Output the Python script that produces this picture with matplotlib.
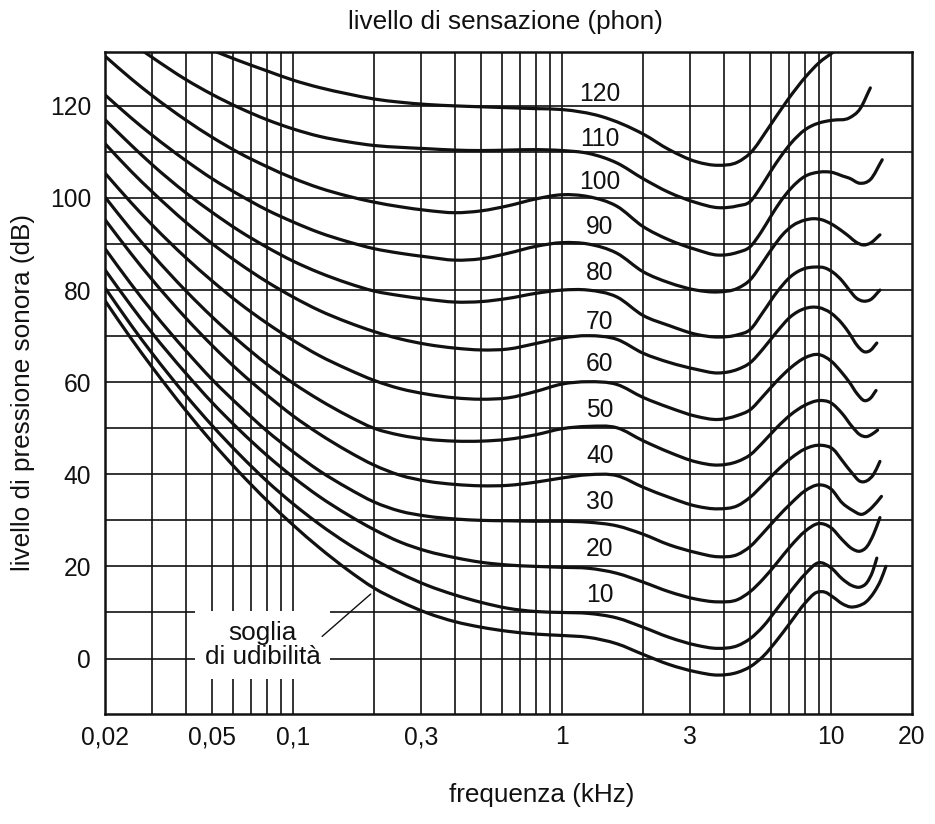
import matplotlib
matplotlib.use("Agg")
import numpy as np
import matplotlib.pyplot as plt
from matplotlib.path import Path
from matplotlib.patches import PathPatch
from matplotlib.ticker import FixedLocator, FixedFormatter, NullFormatter

plt.rcParams['font.family'] = ['Liberation Sans', 'DejaVu Sans']

# ---------------- data (frequency in kHz, level in dB) ----------------
xtick_vals = [0.02, 0.05, 0.1, 0.3, 1, 3, 10, 20]
xtick_labels = ["0,02", "0,05", "0,1", "0,3", "1", "3", "10", "20"]
ytick_vals = [0, 20, 40, 60, 80, 100, 120]
grid_freqs = [0.03, 0.04, 0.05, 0.06, 0.07, 0.08, 0.09, 0.1, 0.2, 0.3, 0.4, 0.5,
              0.6, 0.7, 0.8, 0.9, 1, 2, 3, 4, 5, 6, 7, 8, 9, 10]
grid_levels = [0, 10, 20, 30, 40, 50, 60, 70, 80, 90, 100, 110, 120]

phon_levels = [10, 20, 30, 40, 50, 60, 70, 80, 90, 100, 110, 120]
phon_label_freq = 1.38
phon_label_db = [13.8, 23.8, 34.0, 43.9, 53.9, 63.9, 73.1, 83.8, 93.7, 103.4, 112.8, 122.5]

f_low = [0.02, 0.025, 0.03, 0.04, 0.05, 0.063, 0.08, 0.1, 0.125, 0.16, 0.2, 0.25,
         0.315, 0.4, 0.5, 0.63, 0.8, 1.0, 1.25, 1.6, 2.0, 2.5, 3.15, 3.8, 4.5, 5.0]

f_thr = f_low + [5.6, 6.3, 7.1, 8.0, 8.8, 9.5, 10.2, 11.0, 11.8, 12.6, 13.5, 14.5, 15.3, 16.0]
db_thr = [77.7, 69.5, 63.2, 53.8, 47.0, 40.5, 34.3, 29.0, 24.1, 19.2, 15.3, 12.4,
          9.9, 8.0, 6.8, 5.9, 5.3, 5.0, 4.6, 3.2, 0.9, -1.3, -2.9, -3.6, -3.0, -1.8,
          0.5, 4.0, 8.0, 12.0, 14.3, 14.4, 13.3, 11.9, 11.2, 11.4, 12.3, 14.5, 17.0, 20.0]

f_10 = f_low + [5.6, 6.3, 7.1, 8.0, 9.0, 10.0, 11.0, 12.0, 12.8, 13.6, 14.3, 14.8]
db_10 = [80.5, 72.4, 66.2, 57.1, 50.6, 44.4, 38.5, 33.6, 29.2, 24.9, 21.5, 18.5,
         15.9, 13.8, 12.2, 10.9, 10.2, 10.0, 9.8, 8.8, 6.8, 4.6, 2.9, 2.2, 2.8, 4.3,
         7.0, 10.8, 14.7, 18.3, 20.8, 19.7, 17.3, 15.8, 15.5, 16.5, 19.0, 21.8]

f_20 = f_low + [5.6, 6.3, 7.1, 8.0, 9.0, 10.0, 11.0, 12.0, 12.8, 13.6, 14.4, 15.2]
db_20 = [84.4, 76.6, 70.6, 61.9, 55.6, 49.7, 44.1, 39.4, 35.2, 31.2, 28.0, 25.3,
         23.3, 21.9, 20.9, 20.3, 20.0, 19.8, 19.6, 18.5, 16.6, 14.5, 12.9, 12.3, 12.8, 14.5,
         17.3, 20.8, 24.5, 27.6, 29.3, 28.4, 25.8, 23.8, 23.3, 24.3, 27.0, 30.6]

f_30 = f_low + [5.6, 6.3, 7.1, 8.0, 9.0, 10.0, 11.0, 12.0, 13.0, 14.2, 15.4]
db_30 = [89.0, 81.3, 75.4, 66.8, 60.6, 54.9, 49.4, 44.9, 40.8, 37.0, 34.0, 32.0,
         30.9, 30.3, 30.0, 29.9, 29.8, 29.8, 29.6, 28.8, 27.0, 24.7, 23.0, 22.1, 22.6, 24.3,
         27.3, 30.6, 33.7, 36.4, 37.7, 36.8, 33.8, 32.2, 31.3, 32.8, 35.2]

f_40 = f_low + [5.6, 6.3, 7.1, 8.0, 9.2, 10.2, 11.0, 12.0, 12.8, 13.6, 14.4, 15.2]
db_40 = [95.3, 87.9, 82.2, 73.9, 68.0, 62.4, 57.2, 52.7, 48.8, 45.0, 42.0, 39.8,
         38.5, 37.8, 37.5, 37.6, 38.3, 39.2, 39.9, 39.7, 37.2, 35.0, 33.1, 32.5, 33.2, 35.0,
         37.8, 40.8, 43.5, 45.5, 46.3, 45.4, 43.0, 40.2, 38.5, 38.6, 40.0, 42.8]

f_50 = f_low + [5.6, 6.3, 7.1, 8.0, 9.0, 10.0, 11.0, 12.0, 12.8, 13.6, 14.2, 14.9]
db_50 = [100.2, 93.1, 87.7, 79.8, 74.2, 68.9, 63.9, 59.8, 56.2, 52.7, 50.0, 48.5,
         47.6, 47.2, 47.2, 47.6, 48.6, 49.9, 50.4, 50.1, 47.3, 44.8, 42.7, 42.0, 42.8, 44.2,
         47.0, 50.2, 53.0, 55.0, 56.0, 55.5, 53.2, 50.3, 48.6, 48.2, 48.7, 49.6]

f_60 = f_low + [5.6, 6.3, 7.1, 8.0, 9.0, 10.0, 11.0, 11.7, 12.5, 13.3, 14.0, 14.7]
db_60 = [105.4, 99.0, 94.1, 87.0, 82.0, 77.2, 72.8, 69.1, 65.8, 62.8, 60.4, 58.6,
         57.4, 56.6, 56.3, 56.6, 58.0, 59.6, 60.1, 59.5, 56.7, 54.5, 52.6, 51.9, 52.8, 54.0,
         57.0, 60.3, 63.2, 65.3, 66.0, 64.6, 62.0, 60.0, 57.5, 56.0, 56.5, 58.2]

f_70 = f_low + [5.6, 6.3, 7.1, 8.0, 9.0, 10.0, 11.0, 11.7, 12.5, 13.3, 14.0, 14.8]
db_70 = [111.8, 105.8, 101.3, 94.7, 90.1, 85.8, 81.8, 78.5, 75.6, 73.0, 71.0, 69.4,
         68.2, 67.4, 67.0, 67.2, 68.4, 69.6, 70.1, 69.3, 66.3, 64.3, 62.8, 62.0, 62.8, 64.2,
         67.3, 71.0, 74.3, 76.0, 76.2, 75.0, 72.7, 70.6, 68.0, 66.6, 66.9, 68.5]

f_80 = f_low + [5.6, 6.3, 7.1, 8.0, 8.7, 9.5, 10.2, 11.0, 11.7, 12.4, 13.2, 14.0, 15.2]
db_80 = [117.0, 111.5, 107.2, 101.1, 96.9, 92.9, 89.3, 86.3, 83.8, 81.5, 79.8, 78.8,
         78.0, 77.4, 77.5, 78.2, 79.3, 80.0, 80.0, 78.5, 74.5, 72.3, 70.4, 69.8, 70.3, 71.4,
         75.3, 79.6, 83.0, 84.7, 85.0, 84.8, 83.8, 82.0, 80.0, 78.3, 77.6, 77.9, 80.0]

f_90 = f_low + [5.6, 6.1, 6.6, 7.2, 8.0, 8.6, 9.2, 10.0, 11.0, 11.7, 12.4, 13.2, 14.0, 15.2]
db_90 = [122.4, 117.4, 113.6, 108.1, 104.2, 100.7, 97.4, 94.8, 92.5, 90.5, 89.0, 88.0,
         87.2, 86.5, 86.8, 88.0, 89.5, 90.3, 90.0, 88.0, 84.0, 81.6, 80.0, 79.6, 80.4, 82.2,
         86.2, 89.4, 92.0, 94.0, 95.2, 95.5, 95.3, 94.4, 92.8, 91.6, 90.4, 89.8, 90.2, 92.0]

f_100 = f_low + [5.5, 6.0, 6.5, 7.1, 8.0, 9.0, 10.2, 11.0, 11.7, 12.8, 14.0, 15.5]
db_100 = [130.8, 125.9, 122.2, 116.9, 113.2, 109.8, 106.8, 104.3, 102.2, 100.4, 99.1, 98.1,
          97.3, 96.8, 97.2, 98.3, 99.8, 100.7, 100.3, 98.2, 93.8, 90.9, 88.8, 87.6, 88.2, 89.4,
          92.6, 96.2, 99.3, 102.1, 104.7, 105.6, 105.5, 104.8, 104.3, 103.2, 104.0, 108.3]

f_110 = [0.028, 0.03, 0.04, 0.05, 0.063, 0.08, 0.1, 0.125, 0.16, 0.2, 0.25, 0.315, 0.4,
         0.5, 0.63, 0.8, 1.0, 1.25, 1.6, 2.0, 2.5, 3.15, 3.8, 4.5, 5.0, 5.5, 6.0, 6.5, 7.1,
         8.0, 8.5, 9.3, 10.2, 11.7, 12.8, 14.0]
db_110 = [131.7, 130.5, 125.7, 122.5, 119.6, 117.0, 115.0, 113.4, 112.2, 111.4, 111.0,
          110.7, 110.4, 110.3, 110.4, 110.5, 110.3, 109.7, 107.6, 104.2, 101.2, 99.0, 97.9,
          98.3, 99.2, 102.5, 106.0, 109.0, 111.9, 114.8, 115.7, 116.5, 116.9, 117.4, 119.3,
          123.9]

f_120 = [0.052, 0.063, 0.08, 0.1, 0.125, 0.16, 0.2, 0.25, 0.315, 0.4, 0.5, 0.63, 0.8, 1.0,
         1.4, 2.0, 2.5, 3.15, 3.8, 4.5, 5.0, 5.9, 6.9, 8.1, 9.0, 10.2]
db_120 = [131.7, 129.8, 127.6, 125.6, 124.0, 122.6, 121.5, 120.8, 120.3, 120.0, 119.8,
          119.6, 119.4, 119.2, 117.7, 113.9, 110.5, 107.9, 107.1, 107.8, 109.7, 115.5, 121.3,
          126.5, 129.3, 131.7]

threshold_text = "soglia\ndi udibilità"
threshold_text_pos = (0.077, 2.9)
threshold_arrow_tip = (0.198, 14.4)
threshold_arrow_tail = (0.126, 4.4)

title_text = "livello di sensazione (phon)"
xlabel_text = "frequenza (kHz)"
ylabel_text = "livello di pressione sonora (dB)"


# ---------------- helpers ----------------
def smooth_path(freqs, levels):
    """Smooth cubic (Bezier) path through the read points, built in log-f space."""
    x = np.log10(np.asarray(freqs, float))
    y = np.asarray(levels, float)
    n = len(x)
    h = np.diff(x)
    s = np.diff(y) / h
    m = np.empty(n)
    m[0], m[-1] = s[0], s[-1]
    for i in range(1, n - 1):
        m[i] = (s[i - 1] * h[i] + s[i] * h[i - 1]) / (h[i - 1] + h[i])
    verts = [(x[0], y[0])]
    codes = [Path.MOVETO]
    for i in range(n - 1):
        d = h[i] / 3.0
        verts += [(x[i] + d, y[i] + m[i] * d),
                  (x[i + 1] - d, y[i + 1] - m[i + 1] * d),
                  (x[i + 1], y[i + 1])]
        codes += [Path.CURVE4] * 3
    verts = np.array(verts)
    verts[:, 0] = 10 ** verts[:, 0]
    return Path(verts, codes)


# ---------------- figure ----------------
NUM_FS = 17.7
TXT_FS = 18.8
INK = "#111111"

fig = plt.figure(figsize=(9.35, 8.24), dpi=100)
ax = fig.add_axes([0.1123, 0.1335, 0.8631, 0.8034])
ax.set_xscale("log")
ax.set_xlim(0.02, 20)
ax.set_ylim(-12.05, 131.7)

ax.xaxis.set_major_locator(FixedLocator(xtick_vals))
ax.xaxis.set_major_formatter(FixedFormatter(xtick_labels))
ax.xaxis.set_minor_locator(FixedLocator(grid_freqs))
ax.xaxis.set_minor_formatter(NullFormatter())
ax.xaxis.remove_overlapping_locs = False
ax.yaxis.set_major_locator(FixedLocator(ytick_vals))
ax.yaxis.set_minor_locator(FixedLocator(grid_levels))
ax.yaxis.remove_overlapping_locs = False

ax.tick_params(which="both", length=0)
ax.tick_params(axis="x", which="major", labelsize=NUM_FS, pad=8, colors=INK)
ax.tick_params(axis="y", which="major", labelsize=NUM_FS, pad=10, colors=INK)

ax.set_axisbelow(True)
ax.grid(False, which="major")
ax.grid(True, which="minor", color=INK, linewidth=1.2)

for sp in ax.spines.values():
    sp.set_linewidth(1.8)
    sp.set_color(INK)

curves = [(f_thr, db_thr), (f_10, db_10), (f_20, db_20), (f_30, db_30), (f_40, db_40),
          (f_50, db_50), (f_60, db_60), (f_70, db_70), (f_80, db_80), (f_90, db_90),
          (f_100, db_100), (f_110, db_110), (f_120, db_120)]
for fx, dy in curves:
    patch = PathPatch(smooth_path(fx, dy), fill=False, edgecolor=INK, linewidth=2.3,
                      capstyle="round", joinstyle="round", zorder=3)
    ax.add_patch(patch)

for lvl, ly in zip(phon_levels, phon_label_db):
    ax.text(phon_label_freq, ly, str(lvl), fontsize=NUM_FS, color=INK,
            ha="center", va="center", zorder=4)

ax.text(threshold_text_pos[0], threshold_text_pos[1], threshold_text, fontsize=TXT_FS,
        color=INK, ha="center", va="center", linespacing=1.0, zorder=4,
        bbox=dict(facecolor="white", edgecolor="none", pad=7))
ax.annotate("", xy=threshold_arrow_tip, xytext=threshold_arrow_tail,
            arrowprops=dict(arrowstyle="-", color=INK, lw=1.0), zorder=5)

ax.set_title(title_text, fontsize=TXT_FS, color=INK, x=0.4957, y=1.0453, pad=0,
             va="center")
ax.set_xlabel(xlabel_text, fontsize=TXT_FS, color=INK)
ax.xaxis.label.set_va("center")
ax.xaxis.set_label_coords(0.5415, -0.1224)
ax.set_ylabel(ylabel_text, fontsize=TXT_FS, color=INK)
ax.yaxis.label.set_va("center")
ax.yaxis.set_label_coords(-0.1016, 0.485)

fig.savefig("out.png", dpi=100, facecolor="white")
